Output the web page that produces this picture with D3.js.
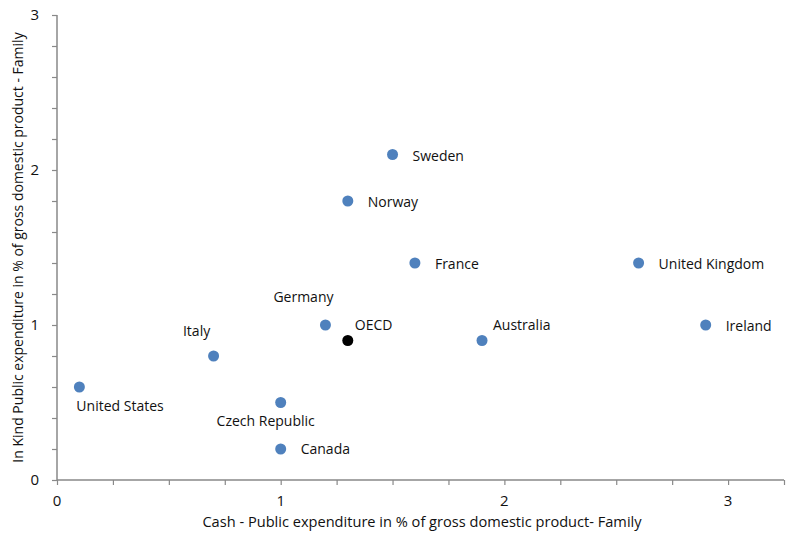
<!DOCTYPE html>
<html>
<head>
<meta charset="utf-8">
<script src="https://cdn.jsdelivr.net/npm/d3@7"></script>
<style>
  body { margin: 0; background: #fff; }
  text { font-family: "Open Sans", "Liberation Sans", sans-serif; fill: #111; }
</style>
</head>
<body>
<div id="chart"></div>
<script>
// Data
const countries = ["United States", "Italy", "Czech Republic", "Canada", "Germany", "OECD",
  "Norway", "Sweden", "France", "Australia", "United Kingdom", "Ireland"];
const cashValues = [0.1, 0.7, 1.0, 1.0, 1.2, 1.3, 1.3, 1.5, 1.6, 1.9, 2.6, 2.9];
const inKindValues = [0.6, 0.8, 0.5, 0.2, 1.0, 0.9, 1.8, 2.1, 1.4, 0.9, 1.4, 1.0];
const xTickLabels = [0, 1, 2, 3];
const yTickLabels = [0, 1, 2, 3];

// Label placement (pixel offsets from the dot)
const labelPlace = {
  "United States": [-3, 24, "start"],
  "Italy": [-17, -20, "middle"],
  "Czech Republic": [-15, 23, "middle"],
  "Canada": [20, 5, "start"],
  "Germany": [-22, -23, "middle"],
  "OECD": [7, -11, "start"],
  "Norway": [20, 6, "start"],
  "Sweden": [20, 6, "start"],
  "France": [20, 6, "start"],
  "Australia": [11, -11, "start"],
  "United Kingdom": [20, 6, "start"],
  "Ireland": [20, 6, "start"]
};

const width = 800, height = 537;
const margin = { top: 15, right: 16, bottom: 57, left: 57 };
const w = width - margin.left - margin.right;
const h = height - margin.top - margin.bottom;

const svg = d3.select("#chart").append("svg")
  .attr("width", width)
  .attr("height", height);

const g = svg.append("g")
  .attr("transform", `translate(${margin.left}, ${margin.top})`);

const x = d3.scaleLinear().domain([0, 3.25]).range([0, w]);
const y = d3.scaleLinear().domain([0, 3]).range([h, 0]);

const axisColor = "#898989";

// x axis with minor ticks every 0.25
const xAxis = g.append("g")
  .attr("transform", `translate(0, ${h})`)
  .call(d3.axisBottom(x).tickValues(d3.range(0, 3.26, 0.25)).tickSize(5).tickFormat(""));
xAxis.select(".domain").attr("stroke", axisColor).attr("stroke-width", 1.5).attr("d", `M0,0H${w}`);
xAxis.selectAll(".tick line").attr("stroke", axisColor).attr("stroke-width", 1.2);

g.selectAll(".xlab").data(xTickLabels).enter().append("text")
  .attr("x", d => x(d))
  .attr("y", h + 26)
  .attr("text-anchor", "middle")
  .style("font-size", "15px")
  .text(d => d);

// y axis with minor ticks every 0.2
const yAxis = g.append("g")
  .call(d3.axisLeft(y).tickValues(d3.range(0, 3.01, 0.2)).tickSize(5).tickFormat(""));
yAxis.select(".domain").attr("stroke", axisColor).attr("stroke-width", 1.5).attr("d", `M0,${h}V0`);
yAxis.selectAll(".tick line").attr("stroke", axisColor).attr("stroke-width", 1.2);

g.selectAll(".ylab").data(yTickLabels).enter().append("text")
  .attr("x", -18)
  .attr("y", d => y(d) + 5)
  .attr("text-anchor", "end")
  .style("font-size", "15px")
  .text(d => d);

// Axis titles
svg.append("text")
  .attr("x", 422)
  .attr("y", 527)
  .attr("text-anchor", "middle")
  .style("font-size", "14.6px")
  .text("Cash - Public expenditure in % of gross domestic product- Family");

svg.append("text")
  .attr("transform", `translate(23, ${margin.top + h / 2}) rotate(-90)`)
  .attr("text-anchor", "middle")
  .style("font-size", "14px")
  .text("In Kind Public expenditure in % of gross domestic product - Family");

// Points
const points = countries.map((c, i) => ({ name: c, cash: cashValues[i], kind: inKindValues[i] }));

g.selectAll(".dot").data(points).enter().append("circle")
  .attr("class", "dot")
  .attr("cx", d => x(d.cash))
  .attr("cy", d => y(d.kind))
  .attr("r", 5.5)
  .attr("fill", d => d.name === "OECD" ? "#000" : "#4f81bd");

g.selectAll(".name").data(points).enter().append("text")
  .attr("x", d => x(d.cash) + labelPlace[d.name][0])
  .attr("y", d => y(d.kind) + labelPlace[d.name][1])
  .attr("text-anchor", d => labelPlace[d.name][2])
  .style("font-size", "14px")
  .text(d => d.name);
</script>
</body>
</html>
